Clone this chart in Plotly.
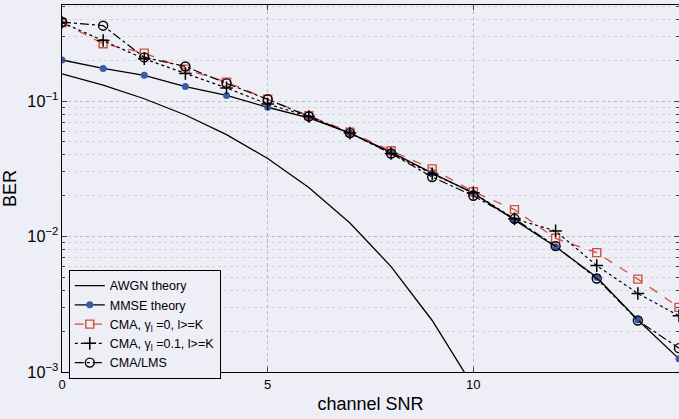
import plotly.graph_objects as go

snr = list(range(16))
snr_awgn = list(range(11))

awgn = [0.159, 0.131, 0.104, 0.0789, 0.0565, 0.0377, 0.0230, 0.0126, 0.0060, 0.0024, 0.00078]
mmse = [0.201, 0.174, 0.155, 0.128, 0.110, 0.090, 0.075, 0.058, 0.042, 0.0294, 0.0209, 0.0132, 0.0084, 0.0050, 0.00242, 0.00125]
cma_g0 = [0.38, 0.265, 0.226, 0.172, 0.138, 0.103, 0.078, 0.059, 0.043, 0.0316, 0.0214, 0.0158, 0.0097, 0.0076, 0.00485, 0.0030]
cma_g01 = [0.38, 0.28, 0.205, 0.16, 0.125, 0.095, 0.077, 0.058, 0.041, 0.029, 0.021, 0.0135, 0.0110, 0.0061, 0.0038, 0.0026]
cma_lms = [0.383, 0.36, 0.21, 0.18, 0.135, 0.103, 0.077, 0.058, 0.041, 0.0275, 0.020, 0.0135, 0.0085, 0.0049, 0.0024, 0.0015]

names = ["AWGN theory", "MMSE theory", "CMA, γ<sub>l</sub> =0, l&gt;=K",
         "CMA, γ<sub>l</sub> =0.1, l&gt;=K", "CMA/LMS"]

BG = "#eeeef6"
FONT = "Liberation Sans, Arial, sans-serif"

fig = go.Figure()
fig.add_trace(go.Scatter(x=snr_awgn, y=awgn, name=names[0], mode="lines",
                         line=dict(color="black", width=1.3)))
fig.add_trace(go.Scatter(x=snr, y=mmse, name=names[1], mode="lines+markers",
                         line=dict(color="black", width=1.3),
                         marker=dict(symbol="circle", size=7, color="#3b5ba5",
                                     line=dict(width=0))))
fig.add_trace(go.Scatter(x=snr, y=cma_g0, name=names[2], mode="lines+markers",
                         line=dict(color="#d0503c", width=1.3, dash="dash"),
                         marker=dict(symbol="square-open", size=8, color="#d0503c",
                                     line=dict(width=1.4, color="#d0503c"))))
fig.add_trace(go.Scatter(x=snr, y=cma_g01, name=names[3], mode="lines+markers",
                         line=dict(color="black", width=1.2, dash="dot"),
                         marker=dict(symbol="cross-thin", size=9, color="black",
                                     line=dict(width=1.5, color="black"))))
fig.add_trace(go.Scatter(x=snr, y=cma_lms, name=names[4], mode="lines+markers",
                         line=dict(color="black", width=1.2, dash="dashdot"),
                         marker=dict(symbol="circle-open", size=9, color="black",
                                     line=dict(width=1.4, color="black"))))

fig.update_layout(
    width=679, height=419,
    margin=dict(l=62, r=0, t=5, b=47),
    paper_bgcolor=BG, plot_bgcolor=BG,
    font=dict(family=FONT, color="black", size=13),
    showlegend=True,
    legend=dict(x=0.011, y=0.278, xanchor="left", yanchor="top",
                bgcolor=BG, bordercolor="black", borderwidth=1,
                font=dict(size=12.5, family=FONT), tracegroupgap=0,
                itemwidth=30),
)
fig.update_xaxes(
    automargin=False,
    range=[0, 15], tickvals=[0, 5, 10, 15], ticks="inside", ticklen=5,
    showline=True, linecolor="black", linewidth=1, mirror="ticks",
    showgrid=True, gridcolor="#b8b8c4", griddash="dot", gridwidth=1,
    zeroline=False,
    title=dict(text="channel SNR", font=dict(size=18, family=FONT), standoff=6),
    tickfont=dict(size=13, family=FONT),
)
fig.update_yaxes(
    automargin=False,
    type="log", range=[-3, -0.291], dtick=1, exponentformat="power",
    ticks="inside", ticklen=5,
    showline=True, linecolor="black", linewidth=1, mirror="ticks",
    showgrid=True, gridcolor="#b8b8c4", griddash="dot", gridwidth=1,
    minor=dict(ticks="inside", ticklen=3, showgrid=True, gridcolor="#d2d2dc",
               griddash="dot", gridwidth=1),
    title=dict(text="BER", font=dict(size=18, family=FONT), standoff=10),
    tickfont=dict(size=13, family=FONT),
)

fig.write_html("out.html", config={"displayModeBar": False},
               post_script="document.body.style.margin='0';document.body.style.overflow='hidden';document.body.style.background='" + BG + "';")
